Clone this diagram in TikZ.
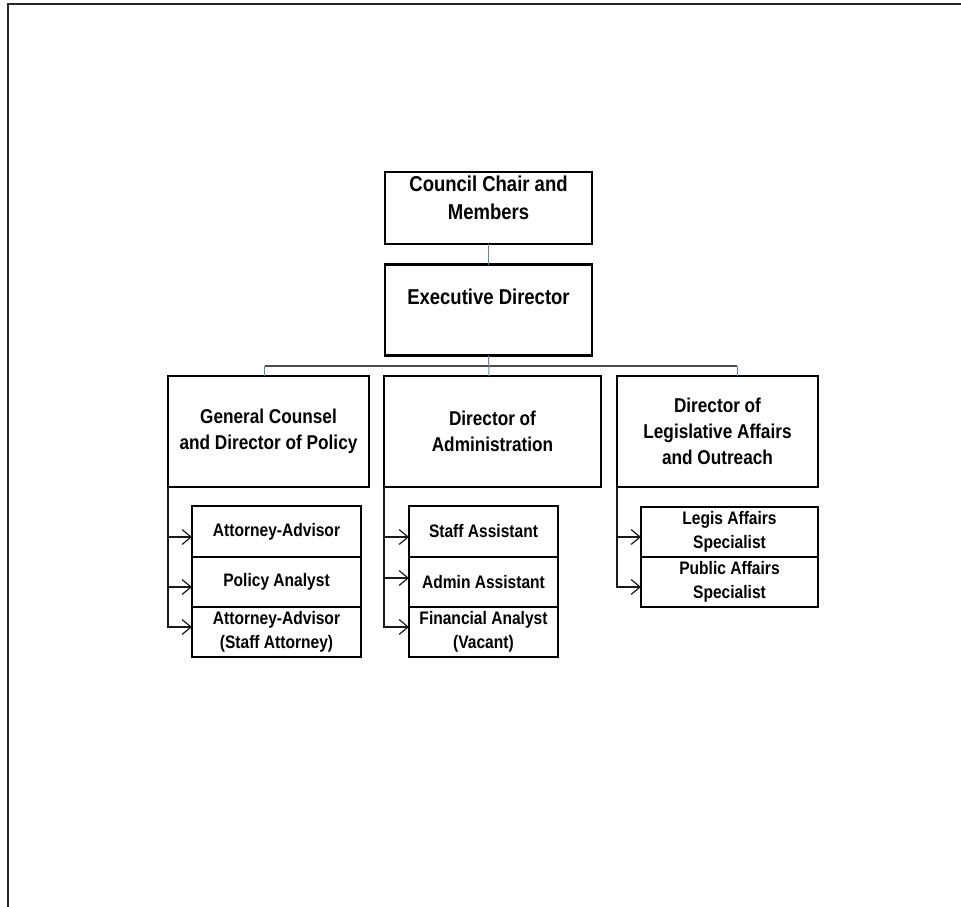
\documentclass[tikz,border=0pt]{standalone}
\usepackage{fontspec}
\setmainfont{Liberation Sans}[FakeStretch=0.86]
\usetikzlibrary{arrows.meta,calc}
\definecolor{linkblue}{RGB}{95,135,190}
\begin{document}
\begin{tikzpicture}[x=1pt,y=-1pt,
  box/.style={draw=black,line width=2.7pt,rectangle,inner sep=0pt,outer sep=0pt,align=center},
  topf/.style={font=\fontsize{21.5}{28}\selectfont\bfseries,align=center,inner sep=0pt},
  midf/.style={font=\fontsize{20}{26}\selectfont\bfseries},
  subf/.style={font=\fontsize{18.1}{24}\selectfont\bfseries},
  link/.style={draw=linkblue,line width=1pt},
  busline/.style={draw=black!70,line width=1.1pt},
  arr/.style={draw=black!90,line width=1.2pt,-{Straight Barb[length=9pt,width=15pt,line width=1.2pt]}},
  frameline/.style={draw=black!85,line width=1.8pt}
]
\useasboundingbox (0,0) rectangle (961,907);
\draw[frameline] (8,910) -- (8,4) -- (965,4);

% top boxes
\node[box,minimum width=207,minimum height=72] (council) at (488.5,208) {};
\node[topf] (councilt) at (488.5,198.3) {Council Chair and\\Members};
\node[box,minimum width=207,minimum height=91] (exec) at (488.5,310) {};
\node[topf] (exect) at (488.5,297.3) {Executive Director};

% middle boxes
\node[box,midf,minimum width=201,minimum height=111] (gc) at (268.5,431.5) {General Counsel\\and Director of Policy};
\node[box,midf,minimum width=217,minimum height=111] (adm) at (492.5,431.5) {Director of\\Administration};
\node[box,midf,minimum width=201,minimum height=111] (leg) at (717.5,431.5) {Director of\\Legislative Affairs\\and Outreach};

% sub boxes GC
\node[box,subf,minimum width=169,minimum height=51] (ga1) at (276.5,531.5) {Attorney-Advisor};
\node[box,subf,minimum width=169,minimum height=50] (ga2) at (276.5,582) {Policy Analyst};
\node[box,subf,minimum width=169,minimum height=50] (ga3) at (276.5,632) {Attorney-Advisor\\(Staff Attorney)};

% sub boxes Admin
\node[box,subf,minimum width=149,minimum height=51] (aa1) at (483.5,531.5) {Staff Assistant};
\node[box,subf,minimum width=149,minimum height=50] (aa2) at (483.5,582) {Admin Assistant};
\node[box,subf,minimum width=149,minimum height=50] (aa3) at (483.5,632) {Financial Analyst\\(Vacant)};

% sub boxes Legis
\node[box,subf,minimum width=177,minimum height=50] (la1) at (729.5,532) {Legis Affairs\\Specialist};
\node[box,subf,minimum width=177,minimum height=50] (la2) at (729.5,582) {Public Affairs\\Specialist};

% hierarchy connectors
\coordinate (bus) at (489,366);
\coordinate (dl) at (264.5,376);
\coordinate (dm) at (489,376);
\coordinate (dr) at (737,376);
\draw[link] (council.south) -- (exec.south |- council.south) -- (exec.north);
\draw[busline] (dl |- bus) -- (dr |- bus);
\draw[link] (exec.south) -- (dm);
\draw[link] (dl |- bus) -- (dl);
\draw[link] (dr |- bus) -- (dr);

% bracket arrows
\draw[arr] (gc.south west) |- ($(ga1.west)+(0,5.5)$);
\draw[arr] (gc.south west) |- ($(ga2.west)+(0,5)$);
\draw[arr] (gc.south west) |- ($(ga3.west)+(0,-5)$);
\draw[arr] (adm.south west) |- ($(aa1.west)+(0,5.5)$);
\draw[arr] (adm.south west) |- ($(aa2.west)+(0,-4)$);
\draw[arr] (adm.south west) |- ($(aa3.west)+(0,-5)$);
\draw[arr] (leg.south west) |- ($(la1.west)+(0,5)$);
\draw[arr] (leg.south west) |- ($(la2.west)+(0,5)$);
\end{tikzpicture}
\end{document}
